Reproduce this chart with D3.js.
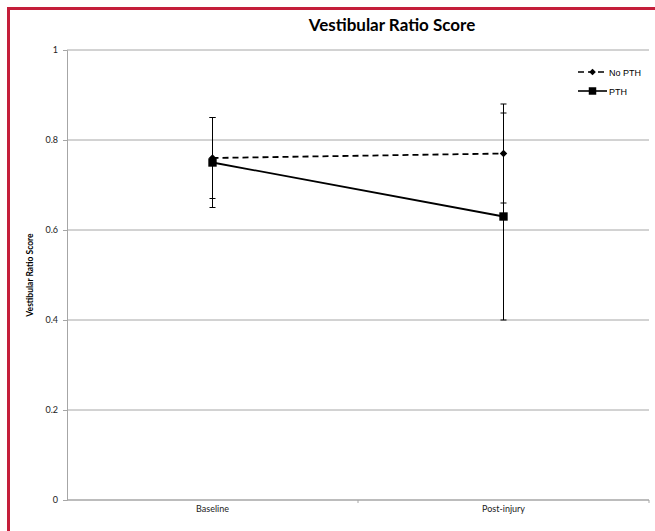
<!DOCTYPE html>
<html>
<head>
<meta charset="utf-8">
<script src="https://cdn.jsdelivr.net/npm/d3@7"></script>
<style>
  html, body { margin: 0; padding: 0; background: #fff; }
  svg { display: block; }
</style>
</head>
<body>
<div id="chart"></div>
<script>
const categories = ['Baseline', 'Post-injury'];
const seriesNames = ['No PTH', 'PTH'];
const noPthMean = [0.76, 0.77];
const noPthErr = [0.09, 0.11];
const pthMean = [0.75, 0.63];
const pthErr = [0.10, 0.23];
const yTicks = [0, 0.2, 0.4, 0.6, 0.8, 1];

const width = 655, height = 531;
const margin = { top: 50, right: 6, bottom: 31, left: 67 };

const svg = d3.select('#chart').append('svg')
  .attr('width', width).attr('height', height);

// red frame (left + top edges visible)
svg.append('path')
  .attr('d', `M8.5,${height} L8.5,8.5 L${width},8.5`)
  .attr('fill', 'none').attr('stroke', '#c41e3a').attr('stroke-width', 3);

const x = d3.scaleBand().domain(categories).range([margin.left, width - margin.right]);
const y = d3.scaleLinear().domain([0, 1]).range([height - margin.bottom, margin.top]);

const series = [
  { name: seriesNames[0], mean: noPthMean, err: noPthErr, dash: '6,4', shape: d3.symbolSquare, rot: 45, size: 28 },
  { name: seriesNames[1], mean: pthMean, err: pthErr, dash: null, shape: d3.symbolSquare, rot: 0, size: 70 },
];

// gridlines
svg.append('g').selectAll('line').data(yTicks.filter(t => t > 0)).join('line')
  .attr('x1', margin.left).attr('x2', width - margin.right)
  .attr('y1', d => y(d)).attr('y2', d => y(d))
  .attr('stroke', '#a6a6a6').attr('stroke-width', 1);

// y axis
const yAxis = svg.append('g').attr('transform', `translate(${margin.left},0)`)
  .call(d3.axisLeft(y).tickValues(yTicks).tickSize(4).tickFormat(d3.format('~g')));
yAxis.select('.domain').attr('stroke', '#a6a6a6');
yAxis.selectAll('.tick line').attr('stroke', '#a6a6a6');
yAxis.selectAll('text').attr('font-family', 'Lato, "Open Sans", sans-serif')
  .attr('font-size', 9).attr('fill', '#222').attr('dx', -2);

// x axis
const xAxisG = svg.append('g').attr('transform', `translate(0,${y(0)})`);
xAxisG.append('line')
  .attr('x1', margin.left).attr('x2', width - margin.right)
  .attr('stroke', '#a6a6a6').attr('stroke-width', 1.5);
xAxisG.selectAll('.tk').data(categories).join('line').attr('class', 'tk')
  .attr('x1', d => x(d) + x.bandwidth()).attr('x2', d => x(d) + x.bandwidth())
  .attr('y1', 0).attr('y2', 3).attr('stroke', '#a6a6a6');
xAxisG.selectAll('text').data(categories).join('text')
  .attr('x', d => x(d) + x.bandwidth() / 2).attr('y', 12)
  .attr('text-anchor', 'middle')
  .attr('font-family', 'Lato, "Open Sans", sans-serif').attr('font-size', 9).attr('fill', '#222')
  .text(d => d);

// titles
svg.append('text').attr('x', 392).attr('y', 31).attr('text-anchor', 'middle')
  .attr('font-family', 'Lato, "Open Sans", sans-serif').attr('font-weight', 'bold')
  .attr('font-size', 17).attr('fill', '#000').text('Vestibular Ratio Score');
svg.append('text')
  .attr('transform', `translate(33,${y(0.5)}) rotate(-90)`)
  .attr('text-anchor', 'middle')
  .attr('font-family', 'Lato, "Open Sans", sans-serif').attr('font-weight', 'bold')
  .attr('font-size', 8.5).attr('fill', '#000').text('Vestibular Ratio Score');

const cx = d => x(d) + x.bandwidth() / 2;
const plot = svg.append('g');

// error bars
series.forEach(s => {
  const g = plot.append('g');
  categories.forEach((c, i) => {
    const lo = s.mean[i] - s.err[i], hi = s.mean[i] + s.err[i];
    g.append('line').attr('x1', cx(c)).attr('x2', cx(c))
      .attr('y1', y(lo)).attr('y2', y(hi)).attr('stroke', '#000').attr('stroke-width', 1);
    [lo, hi].forEach(v => g.append('line')
      .attr('x1', cx(c) - 3).attr('x2', cx(c) + 3)
      .attr('y1', y(v)).attr('y2', y(v)).attr('stroke', '#000').attr('stroke-width', 1));
  });
});

// lines + markers
const line = d3.line().x((d, i) => cx(categories[i])).y(d => y(d));
series.forEach(s => {
  plot.append('path').datum(s.mean).attr('d', line)
    .attr('fill', 'none').attr('stroke', '#000').attr('stroke-width', 1.8)
    .attr('stroke-dasharray', s.dash);
  plot.selectAll(null).data(s.mean).join('path')
    .attr('transform', (d, i) => `translate(${cx(categories[i])},${y(d)}) rotate(${s.rot})`)
    .attr('d', d3.symbol().type(s.shape).size(s.size))
    .attr('fill', '#000');
});

// legend
const legend = svg.append('g').attr('transform', 'translate(578,72)');
series.forEach((s, i) => {
  const g = legend.append('g').attr('transform', `translate(0,${i * 19})`);
  g.append('line').attr('x1', 0).attr('x2', 29).attr('stroke', '#000')
    .attr('stroke-width', 1.6).attr('stroke-dasharray', s.dash);
  g.append('path').attr('transform', `translate(14.5,0) rotate(${s.rot})`)
    .attr('d', d3.symbol().type(s.shape).size(s.size * 0.8)).attr('fill', '#000');
  g.append('text').attr('x', 31).attr('y', 3.5)
    .attr('font-family', '"Liberation Sans", Arial, sans-serif').attr('font-size', 9)
    .attr('fill', '#000').text(s.name);
});
</script>
</body>
</html>
